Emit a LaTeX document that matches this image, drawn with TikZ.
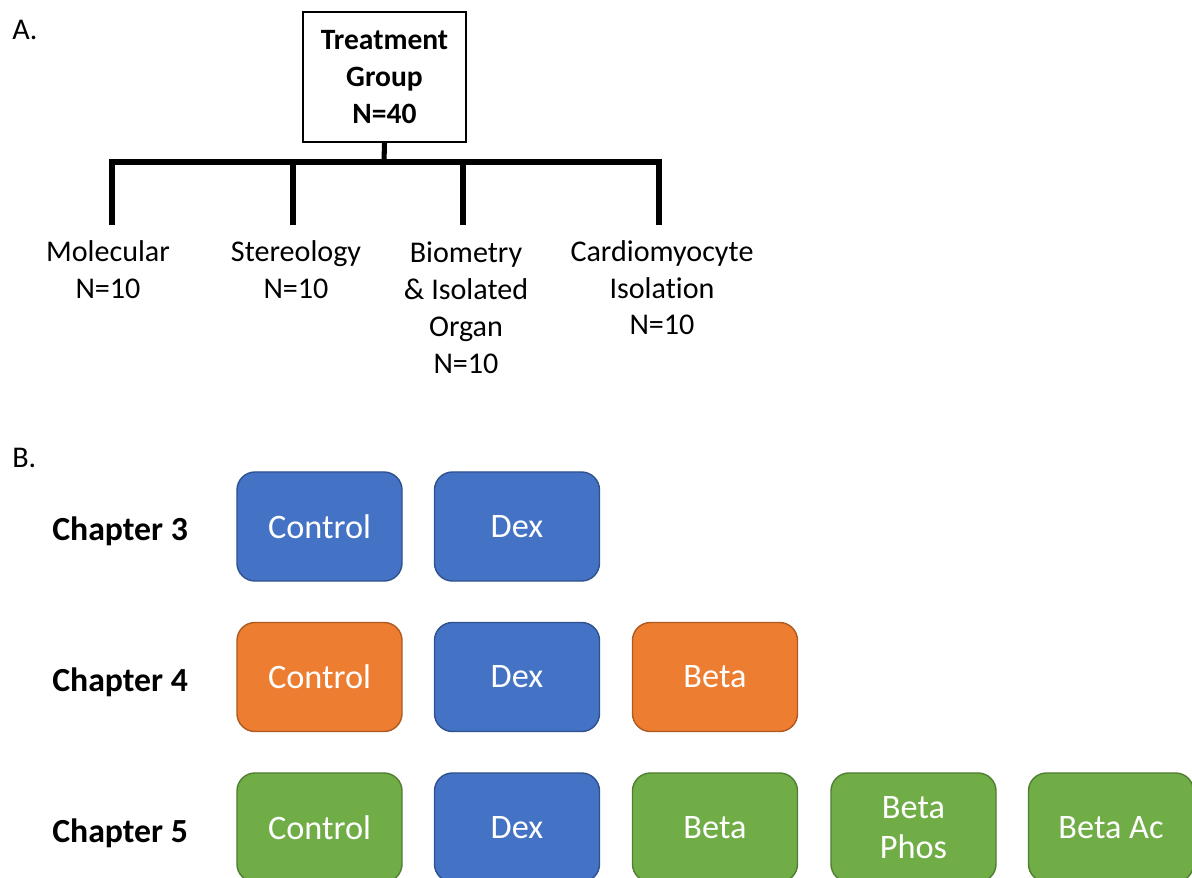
\documentclass[tikz,border=0pt]{standalone}
\usepackage{fontspec}
\setmainfont{Carlito}[Ligatures=NoCommon]
\definecolor{bfill}{HTML}{4472C4}
\definecolor{bdraw}{HTML}{2F528F}
\definecolor{ofill}{HTML}{ED7D31}
\definecolor{odraw}{HTML}{AE5A21}
\definecolor{gfill}{HTML}{70AD47}
\definecolor{gdraw}{HTML}{507E32}
\tikzset{
  grp/.style={draw, rounded corners=0.45cm, line width=1pt, minimum width=4.125cm, minimum height=2.725cm, text=white, align=center, font=\fontsize{24.4}{28.5}\selectfont, inner sep=0pt},
  bluebox/.style={grp, fill=bfill, draw=bdraw},
  orangebox/.style={grp, fill=ofill, draw=odraw},
  greenbox/.style={grp, fill=gfill, draw=gdraw},
  chap/.style={font=\fontsize{24}{28}\selectfont\bfseries, anchor=west, inner sep=0pt},
  leaf/.style={align=center, font=\fontsize{21.4}{26.2}\selectfont, inner sep=0pt, anchor=north},
  treeline/.style={line width=3.6pt, line join=miter},
  panel/.style={font=\fontsize{21.4}{26}\selectfont, anchor=west, inner sep=0pt}
}
\begin{document}
\begin{tikzpicture}[x=0.025cm, y=-0.025cm]
\useasboundingbox (0,0) rectangle (1192,877);
% Panel A
\node[panel] (pa) at (12,30) {A.};
\node[draw, line width=1pt, minimum width=4.075cm, minimum height=3.25cm, align=center, inner sep=0pt,
      font=\fontsize{21}{26}\selectfont\bfseries] (tg) at (384.5,77) {Treatment\\Group\\N=40};
\coordinate (j) at (384,162);
\coordinate (e1) at (112,225);
\coordinate (e2) at (293,225);
\coordinate (e3) at (463,225);
\coordinate (e4) at (659,225);
\draw[treeline] (tg.south) -- (j);
\draw[treeline] (e1) -- (e1 |- j) -- (e4 |- j) -- (e4);
\draw[treeline] (e2 |- j) -- (e2);
\draw[treeline] (e3 |- j) -- (e3);
\node[leaf] (m) at (108,240) {Molecular\\N=10};
\node[leaf] (s) at (296,240) {Stereology\\N=10};
\node[leaf] (b) at (466,242) {Biometry\\\& Isolated\\Organ\\N=10};
\node[leaf] (c) at (662,240) {Cardiomyocyte\\Isolation\\N=10};
% Panel B
\node[panel] (pb) at (12,458) {B.};
\node[chap] (ch3) at (52,531) {Chapter 3};
\node[chap] (ch4) at (52,682) {Chapter 4};
\node[chap] (ch5) at (52,833) {Chapter 5};
\node[bluebox] (r1a) at (319.5,526.5) {Control};
\node[bluebox] (r1b) at (517,526.5) {Dex};
\node[orangebox] (r2a) at (319.5,677) {Control};
\node[bluebox] (r2b) at (517,677) {Dex};
\node[orangebox] (r2c) at (715,677) {Beta};
\node[greenbox] (r3a) at (319.5,827.5) {Control};
\node[bluebox] (r3b) at (517,827.5) {Dex};
\node[greenbox] (r3c) at (715,827.5) {Beta};
\node[greenbox] (r3d) at (913.5,827.5) {Beta\\Phos};
\node[greenbox] (r3e) at (1111,827.5) {Beta Ac};
\end{tikzpicture}
\end{document}
